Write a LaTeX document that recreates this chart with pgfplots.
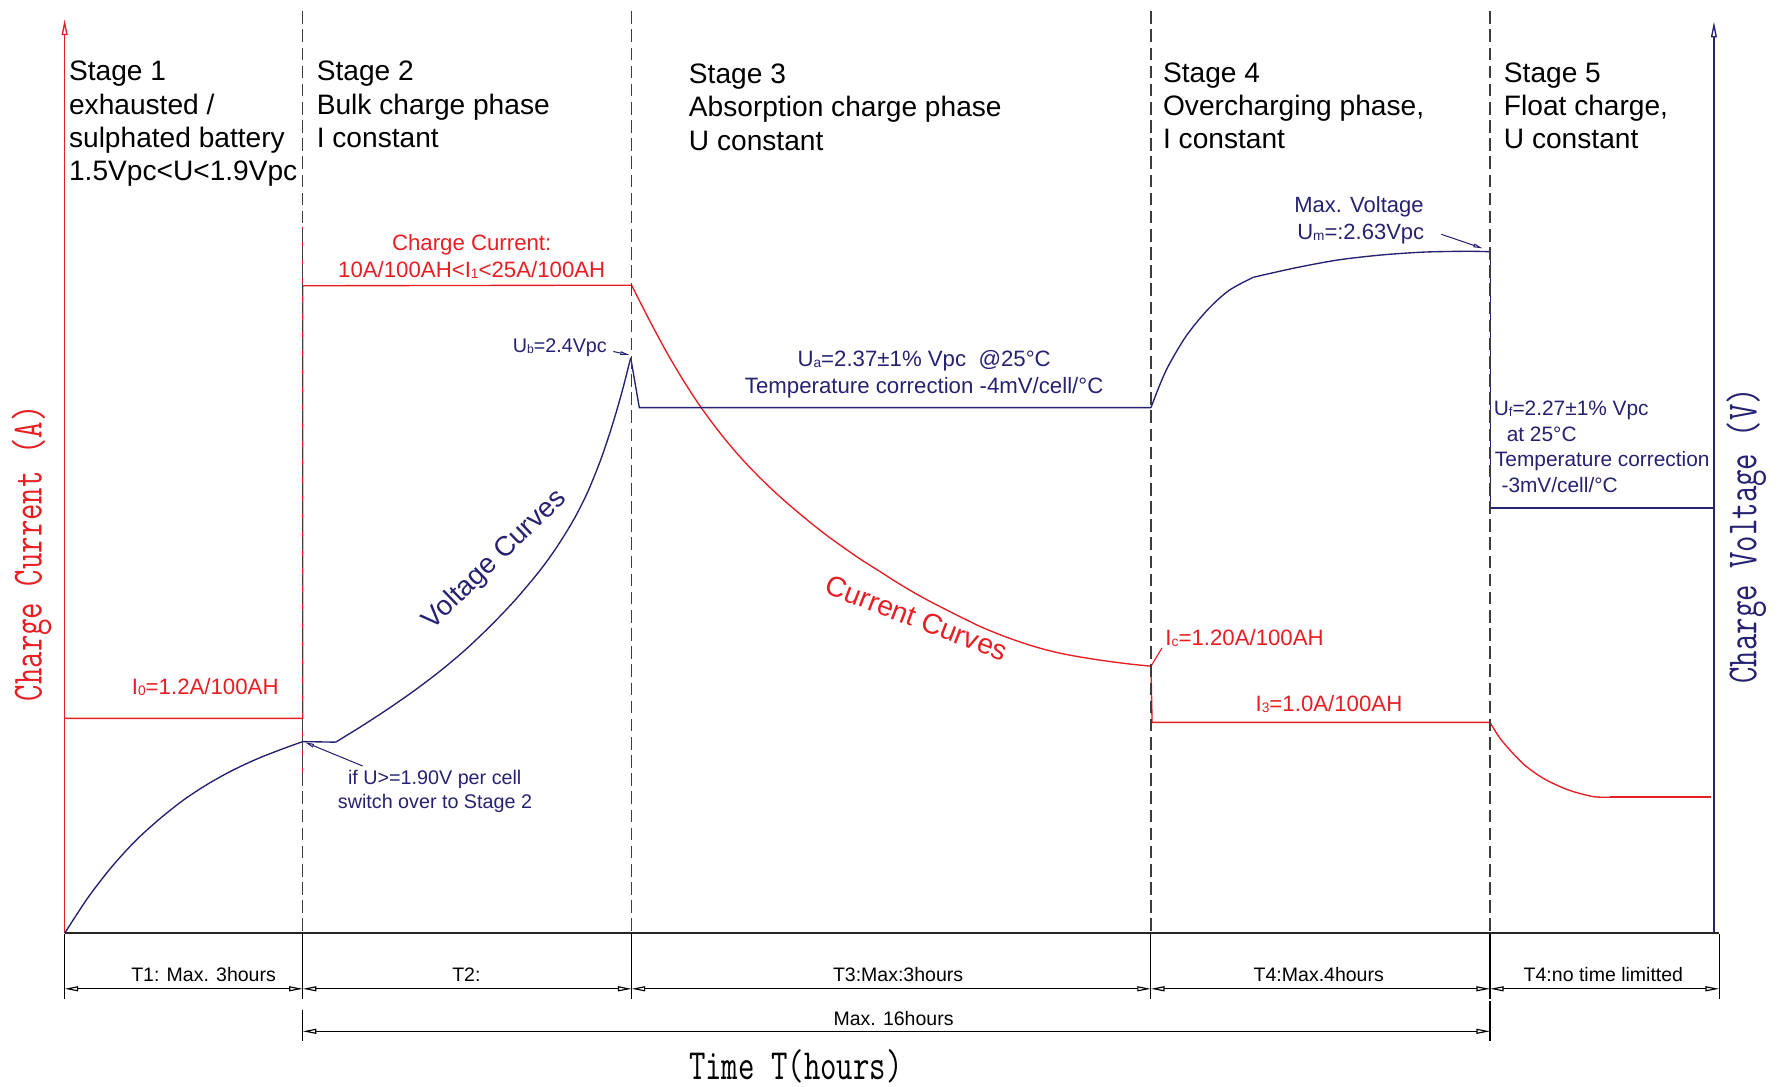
\documentclass[border=0pt]{standalone}
\usepackage{fontspec}
\setmainfont{Liberation Sans}
\usepackage{pgfplots}
\pgfplotsset{compat=1.18}
\usetikzlibrary{arrows.meta}
\definecolor{cred}{RGB}{232,30,37}
\definecolor{cnavy}{RGB}{38,33,112}
\definecolor{dgray}{RGB}{60,60,60}
\newcommand\sub[1]{\raisebox{-0.1ex}{\scalebox{0.62}{#1}}}
\newcommand\monolab[1]{\scalebox{0.74}[1]{\fontsize{19pt}{22pt}\selectfont\ttfamily #1}}
\newcommand\fs[1]{\fontsize{#1pt}{#1pt}\selectfont}
\begin{document}
\begin{tikzpicture}
\begin{axis}[width=784pt,height=479pt,scale only axis,
  xmin=0,xmax=1568,ymin=0,ymax=958,y dir=reverse,
  hide axis,clip=false]
\path (axis cs:0,0) (axis cs:1568,958);
% axes
\addplot[cred,line width=0.6pt,-{Triangle[open,length=7pt,width=2.6pt]},forget plot] coordinates {(57,823) (57,17)};
\addplot[cnavy,line width=0.6pt,-{Triangle[open,length=7pt,width=2.6pt]},forget plot] coordinates {(1511.5,823) (1511.5,19)};
% current curve
\addplot[cred,line width=0.6pt,forget plot] coordinates {(57,633.5) (267,633.5) (267,252) (557,251.5)};
\addplot[cred,line width=0.6pt,forget plot] coordinates {(267,200) (267,688)};
\addplot[cred,line width=0.6pt,smooth,forget plot] coordinates {(557,251.5) (572,281) (587,309) (602,334.5) (617,357.5) (632,378) (647,396.5) (662,413) (677,428) (690,440) (704,452) (718,463.5) (732,474.3) (747,485) (761,494.6) (776,504) (790,513) (805,522) (820,530.3) (835,538) (850,545.5) (864,552.3) (879,558.6) (894,564.2) (908,568.9) (923,573.2) (937,576.5) (952,579.3) (967,581.7) (982,583.8) (998,585.8) (1015,587.5)};
\addplot[cred,line width=0.6pt,forget plot] coordinates {(1015,587.5) (1016,637) (1314,637)};
\addplot[cred,line width=0.6pt,smooth,forget plot] coordinates {(1314,637) (1324,652.6) (1342.7,673) (1361,686.4) (1383,696.6) (1405,702.5) (1420,703)};
\addplot[cred,line width=0.6pt,forget plot] coordinates {(1420,703) (1508.5,703)};
\addplot[cred,line width=0.5pt,forget plot] coordinates {(1015.4,587) (1024.7,571.5)};
% voltage curve
\addplot[cnavy,line width=0.6pt,smooth,forget plot] coordinates {(57,823) (78,791) (99,763.9) (120,741) (141,722) (162,705.4) (183,691.6) (204,679.9) (225,670) (246,661.6) (267,654)};
\addplot[cnavy,line width=0.6pt,forget plot] coordinates {(267,654) (296,654.5)};
\addplot[cnavy,line width=0.6pt,smooth,forget plot] coordinates {(296,654.5) (320,639.7) (344,624) (366,608.6) (388,591.9) (410,573.4) (432,552.5) (454,529.5) (476,503.3) (491,482.5) (506,458.2) (518,434.5) (529,407.5) (537,384.3) (544,361.6) (550,340) (556.2,315.5)};
\addplot[cnavy,line width=0.6pt,forget plot] coordinates {(556.2,315.5) (563.8,359.5) (1015,359.5)};
\addplot[cnavy,line width=0.6pt,smooth,forget plot] coordinates {(1015,359.5) (1023,338.9) (1031,321.5) (1046,296.4) (1065,273.1) (1084,256) (1105.4,244.5)};
\addplot[cnavy,line width=0.6pt,smooth,forget plot] coordinates {(1105.4,244.5) (1141.5,236.4) (1179.7,229.3) (1217.8,224.9) (1256,222.3) (1294,221.6) (1314.3,222)};
\addplot[cnavy,line width=0.6pt,forget plot] coordinates {(1314.3,222) (1314.3,448) (1511.5,448)};
% stage separators
\addplot[dgray,line width=0.55pt,dash pattern=on 5.5pt off 2.5pt,forget plot] coordinates {(267,10) (267,823)};
\addplot[dgray,line width=0.55pt,dash pattern=on 5.5pt off 2.5pt,forget plot] coordinates {(557,10) (557,823)};
\addplot[dgray,line width=0.55pt,dash pattern=on 5.5pt off 2.5pt,forget plot] coordinates {(1015,10) (1015,823)};
\addplot[dgray,line width=0.55pt,dash pattern=on 5.5pt off 2.5pt,forget plot] coordinates {(1314,10) (1314,823)};
\addplot[black!85,line width=0.75pt,forget plot] coordinates {(57,823) (1516,823)};
% extension lines
\addplot[black,line width=0.45pt,forget plot] coordinates {(57,824) (57,881)};
\addplot[black,line width=0.45pt,forget plot] coordinates {(267,824) (267,881)};
\addplot[black,line width=0.45pt,forget plot] coordinates {(267,891) (267,918)};
\addplot[black,line width=0.45pt,forget plot] coordinates {(557,824) (557,881)};
\addplot[black,line width=0.45pt,forget plot] coordinates {(1015,824) (1015,881)};
\addplot[black,line width=0.45pt,forget plot] coordinates {(1314,824) (1314,881)};
\addplot[black,line width=0.45pt,forget plot] coordinates {(1314,883) (1314,918)};
\addplot[black,line width=0.45pt,forget plot] coordinates {(1516,824) (1516,881)};
% leaders
\draw[cnavy,line width=0.45pt,-{Triangle[open,length=4pt,width=1.6pt]}] (axis cs:540.9,310) -- (axis cs:555,313);
\draw[cnavy,line width=0.45pt,-{Triangle[open,length=4pt,width=1.6pt]}] (axis cs:319.8,675.5) -- (axis cs:269,654.6);
\draw[cnavy,line width=0.45pt,-{Triangle[open,length=4pt,width=1.6pt]}] (axis cs:1271,206.6) -- (axis cs:1307.4,219);
% dimension lines
\tikzset{dimarr/.style={black,line width=0.5pt,{Triangle[open,length=6pt,width=2.2pt]}-{Triangle[open,length=6pt,width=2.2pt]}}}
\draw[dimarr] (axis cs:57,872) -- (axis cs:267,872);
\draw[dimarr] (axis cs:267,872) -- (axis cs:557,872);
\draw[dimarr] (axis cs:557,872) -- (axis cs:1015,872);
\draw[dimarr] (axis cs:1015,872) -- (axis cs:1314,872);
\draw[dimarr] (axis cs:1314,872) -- (axis cs:1516,872);
\draw[dimarr] (axis cs:267,909.5) -- (axis cs:1314,909.5);
% dimension texts
\begin{scope}[every node/.style={inner sep=0pt,anchor=base,font=\fs{8.6}}]
\node at (axis cs:179.5,866) {T1: Max. 3hours};
\node at (axis cs:411.3,866) {T2:};
\node at (axis cs:792,866) {T3:Max:3hours};
\node at (axis cs:1163,866) {T4:Max.4hours};
\node at (axis cs:1414,866) {T4:no time limitted};
\node at (axis cs:788,904) {Max. 16hours};
\end{scope}
% stage texts
\begin{scope}[every node/.style={inner sep=0pt,anchor=base west,font=\fs{12.4}}]
\node at (axis cs:60.5,71.4) {Stage 1};
\node at (axis cs:60.5,100.8) {exhausted /};
\node at (axis cs:60.5,130.2) {sulphated battery};
\node at (axis cs:60.5,159.6) {1.5Vpc<U<1.9Vpc};
\node at (axis cs:279,71.4) {Stage 2};
\node at (axis cs:279,100.8) {Bulk charge phase};
\node at (axis cs:279,130.2) {I constant};
\node at (axis cs:607.2,73.5) {Stage 3};
\node at (axis cs:607.2,102.9) {Absorption charge phase};
\node at (axis cs:607.2,132.3) {U constant};
\node at (axis cs:1025.3,72.5) {Stage 4};
\node at (axis cs:1025.3,101.9) {Overcharging phase,};
\node at (axis cs:1025.3,131.3) {I constant};
\node at (axis cs:1325.9,72.5) {Stage 5};
\node at (axis cs:1325.9,101.9) {Float charge,};
\node at (axis cs:1325.9,131.3) {U constant};
\end{scope}
% red annotations
\begin{scope}[every node/.style={inner sep=0pt,text=cred,font=\fs{9.8}}]
\node[anchor=base] at (axis cs:416,220.5) {Charge Current:};
\node[anchor=base] at (axis cs:416,244.6) {10A/100AH<I\sub{1}<25A/100AH};
\node[anchor=base] at (axis cs:181,612.3) {I\sub{0}=1.2A/100AH};
\node[anchor=base west] at (axis cs:1027.4,569.4) {I\sub{c}=1.20A/100AH};
\node[anchor=base] at (axis cs:1172,627.6) {I\sub{3}=1.0A/100AH};
\node[rotate=-21,font=\fs{12.5}] at (axis cs:808.5,545) {Current Curves};
\end{scope}
% navy annotations
\begin{scope}[every node/.style={inner sep=0pt,text=cnavy,font=\fs{9.8}}]
\node[anchor=base east,font=\fs{8.7}] at (axis cs:535.5,311) {U\sub{b}=2.4Vpc};
\node[rotate=44,font=\fs{12.2}] at (axis cs:436.5,493.8) {Voltage Curves};
\node[anchor=base] at (axis cs:815,323.3) {U\sub{a}=2.37\textpm1\% Vpc\ \ @25°C};
\node[anchor=base] at (axis cs:815,346.8) {Temperature correction -4mV/cell/°C};
\node[anchor=base,font=\fs{8.7}] at (axis cs:383.4,691.4) {if U>=1.90V per cell};
\node[anchor=base,font=\fs{8.7}] at (axis cs:383.6,712.8) {switch over to Stage 2};
\node[anchor=base,font=\fs{9.7}] at (axis cs:1198.5,187.5) {Max. Voltage};
\node[anchor=base,font=\fs{9.7}] at (axis cs:1200,211) {U\sub{m}=:2.63Vpc};
\node[anchor=base west,font=\fs{9.2}] at (axis cs:1317,366.5) {U\sub{f}=2.27\textpm1\% Vpc};
\node[anchor=base west,font=\fs{9.2}] at (axis cs:1328.4,389.5) {at 25°C};
\node[anchor=base west,font=\fs{9.2}] at (axis cs:1318,411.5) {Temperature correction};
\node[anchor=base west,font=\fs{9.2}] at (axis cs:1323.8,434) {-3mV/cell/°C};
\end{scope}
% axis titles
\node[inner sep=0pt,rotate=90,text=cred] at (axis cs:27.9,488) {\monolab{Charge Current (A)}};
\node[inner sep=0pt,rotate=90,text=cnavy] at (axis cs:1540,472.5) {\monolab{Charge Voltage (V)}};
\node[inner sep=0pt,anchor=base] at (axis cs:701.8,952.4) {\monolab{Time T(hours)}};
\end{axis}
\end{tikzpicture}
\end{document}
